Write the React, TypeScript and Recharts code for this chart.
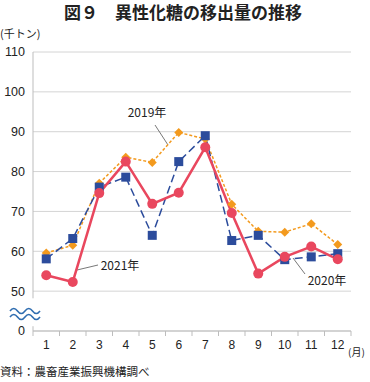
import { LineChart, Line, XAxis, YAxis, CartesianGrid, Customized } from 'recharts'

// values (thousand tons)
const months = ['1', '2', '3', '4', '5', '6', '7', '8', '9', '10', '11', '12']
const y2019 = [59.6, 61.5, 77.1, 83.6, 82.3, 89.8, 88.2, 71.8, 65.0, 64.8, 66.9, 61.7]
const y2020 = [58.1, 63.2, 76.1, 78.6, 64.0, 82.5, 89.0, 62.7, 64.0, 57.9, 58.6, 59.4]
const y2021 = [54.0, 52.3, 74.6, 82.5, 71.9, 74.7, 86.1, 69.6, 54.4, 58.6, 61.2, 58.0]
// 40 on the scale is drawn as the "0" below the axis break
const yTicks = [40, 50, 60, 70, 80, 90, 100, 110]

const data = months.map((m, i) => ({
  month: m,
  y2019: y2019[i],
  y2020: y2020[i],
  y2021: y2021[i],
}))

const W = 370
const H = 382
const LEFT = 33
const RIGHT = 351
const TOP = 52
const BOTTOM = 331
const FONT = '"Liberation Sans", "Noto Sans CJK JP", sans-serif'
const JP = '"Noto Sans CJK JP", "Liberation Sans", sans-serif'

const RED = '#e9475e'
const BLUE = '#2c4c9c'
const ORANGE = '#f39a1e'
const AXIS = '#bdbdbd'

const yPx = (v: number) => TOP + ((110 - v) / 70) * (BOTTOM - TOP)
const band = (RIGHT - LEFT) / months.length

const Square = (props: any) => {
  const { cx, cy } = props
  if (cx == null || cy == null) return null
  return <rect x={cx - 4.5} y={cy - 4.5} width={9} height={9} fill={BLUE} />
}

const Diamond = (props: any) => {
  const { cx, cy } = props
  if (cx == null || cy == null) return null
  const r = 4.5
  return <path d={`M${cx},${cy - r}L${cx + r},${cy}L${cx},${cy + r}L${cx - r},${cy}Z`} fill={ORANGE} />
}

function Decorations() {
  const breakTop = yPx(48.2)
  const breakBottom = yPx(41.2)
  const wave = (y: number) =>
    `M10,${y} q3.75,-5 7.5,0 t7.5,0 t7.5,0 t7.5,0`
  return (
    <g>
      {/* left axis with break */}
      <line x1={LEFT} y1={TOP} x2={LEFT} y2={breakTop} stroke={AXIS} />
      <line x1={LEFT} y1={breakBottom} x2={LEFT} y2={BOTTOM + 5} stroke={AXIS} />
      <path d={wave(311)} stroke="#2f6db0" strokeWidth={1.6} fill="none" />
      <path d={wave(317)} stroke="#2f6db0" strokeWidth={1.6} fill="none" />
      {/* x ticks at category boundaries */}
      {months.map((m, i) => (
        <line key={m} x1={LEFT + (i + 1) * band} y1={BOTTOM} x2={LEFT + (i + 1) * band} y2={BOTTOM + 5} stroke={AXIS} />
      ))}
      {/* series labels */}
      <text x={147} y={117} fontSize={12} fontFamily={JP} textAnchor="middle" fill="#222">2019年</text>
      <line x1={155} y1={125} x2={168} y2={145} stroke="#555" strokeWidth={0.8} />
      <text x={120} y={270} fontSize={12} fontFamily={JP} textAnchor="middle" fill="#222">2021年</text>
      <line x1={98} y1={265} x2={77} y2={270} stroke="#555" strokeWidth={0.8} />
      <text x={327} y={285} fontSize={12} fontFamily={JP} textAnchor="middle" fill="#222">2020年</text>
      <line x1={293} y1={258} x2={305} y2={274} stroke="#555" strokeWidth={0.8} />
      {/* titles */}
      <text x={183} y={19} fontSize={17} fontWeight="bold" fontFamily={JP} textAnchor="middle" fill="#222">図９　異性化糖の移出量の推移</text>
      <text x={0} y={38} fontSize={11} fontFamily={JP} fill="#222">(千トン)</text>
      <text x={348} y={356} fontSize={10} fontFamily={JP} fill="#222">(月)</text>
      <text x={0} y={376} fontSize={11.5} fontFamily={JP} fill="#222">資料：農畜産業振興機構調べ</text>
    </g>
  )
}

export default function App() {
  return (
    <div style={{ position: 'absolute', left: 0, top: 0, width: W, height: H, background: '#fff' }}>
      <LineChart
        width={W}
        height={H}
        data={data}
        margin={{ top: TOP, right: W - RIGHT, bottom: 0, left: 0 }}
      >
        <CartesianGrid vertical={false} stroke="#d4d4d4" />
        <XAxis
          dataKey="month"
          stroke={AXIS}
          tickLine={false}
          tickSize={0}
          tickMargin={9}
          height={H - BOTTOM}
          padding={{ left: band / 2, right: band / 2 }}
          tick={{ fill: '#222', fontSize: 12, fontFamily: FONT }}
        />
        <YAxis
          domain={[40, 110]}
          ticks={yTicks}
          width={LEFT}
          axisLine={false}
          tickLine={false}
          tickSize={0}
          tickMargin={8}
          tick={{ fill: '#222', fontSize: 12.5, fontFamily: FONT }}
          tickFormatter={(v) => (v === 40 ? '0' : String(v))}
          interval={0}
        />
        <Line
          dataKey="y2019"
          stroke={ORANGE}
          strokeWidth={1.5}
          strokeDasharray="3 2"
          dot={<Diamond />}
          isAnimationActive={false}
        />
        <Line
          dataKey="y2020"
          stroke={BLUE}
          strokeWidth={1.5}
          strokeDasharray="8 4"
          dot={<Square />}
          isAnimationActive={false}
        />
        <Line
          dataKey="y2021"
          stroke={RED}
          strokeWidth={2.5}
          dot={{ r: 5, fill: RED, stroke: RED, strokeWidth: 0 }}
          isAnimationActive={false}
        />
        <Customized component={Decorations} />
      </LineChart>
    </div>
  )
}
